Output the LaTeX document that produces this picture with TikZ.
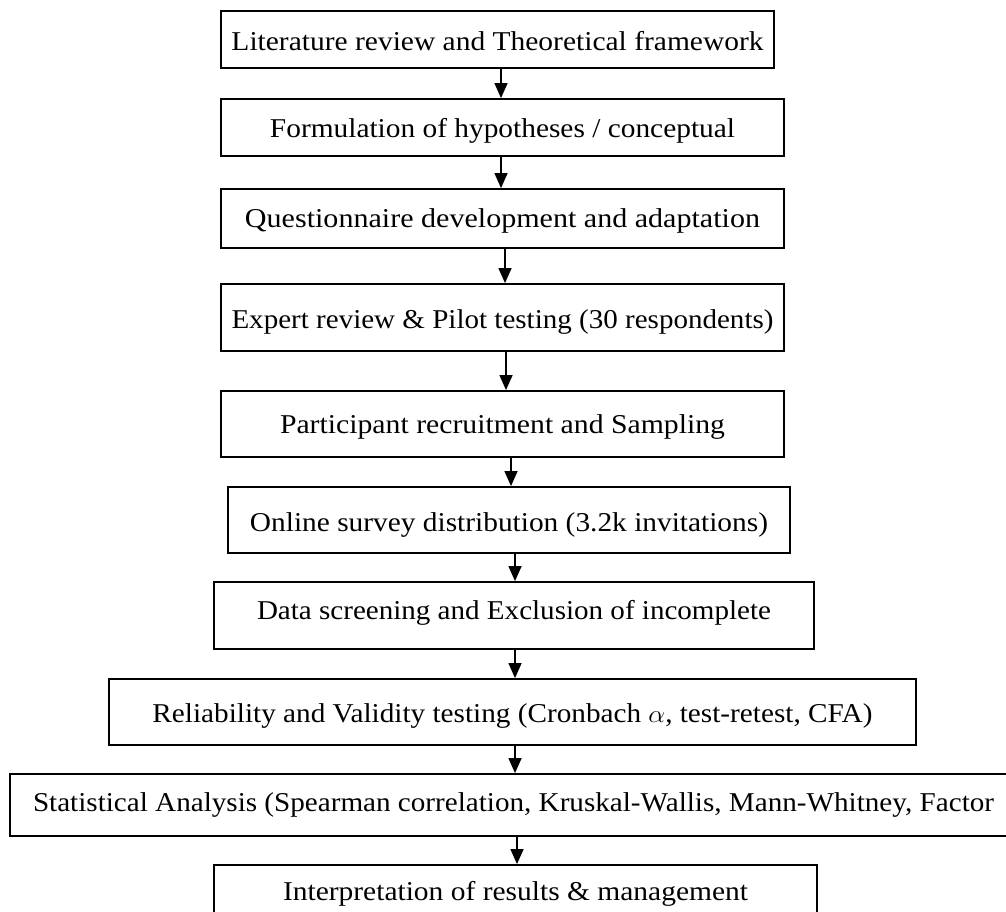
\documentclass[tikz,border=0pt]{standalone}
\usepackage{graphicx}
\usepackage{fontspec}
\setmainfont{Liberation Serif}
\usetikzlibrary{arrows.meta}
\newcommand\fitw[2]{\resizebox{#1pt}{\height}{#2}}
\tikzset{
  box/.style={draw=black, line width=1.8pt, fill=none, inner sep=0pt, align=center,
    font=\fontsize{27.2}{30}\selectfont, text depth=0pt},
  arr/.style={line width=1.3pt, -{Triangle[length=15pt,width=13pt]}}
}
\begin{document}
\begin{tikzpicture}[x=1pt,y=-1pt]
\useasboundingbox (0,0) rectangle (1006,911);
\node[box, minimum width=553pt, minimum height=57pt, text height=21pt] (b1) at (497.5,39.5) {\fitw{532}{Literature review and Theoretical framework}};
\node[box, minimum width=563pt, minimum height=57pt, text height=19pt] (b2) at (502.5,127.5) {\fitw{465}{Formulation of hypotheses / conceptual}};
\node[box, minimum width=563pt, minimum height=59pt, text height=17pt] (b3) at (502.5,218.5) {\fitw{515}{Questionnaire development and adaptation}};
\node[box, minimum width=563pt, minimum height=67pt, text height=21pt] (b4) at (502.5,317.5) {\fitw{542}{Expert review \& Pilot testing (30 respondents)}};
\node[box, minimum width=563pt, minimum height=66pt, text height=18pt] (b5) at (502.5,424) {\fitw{445}{Participant recruitment and Sampling}};
\node[box, minimum width=562pt, minimum height=66pt, text height=22pt] (b6) at (509,520) {\fitw{518}{Online survey distribution (3.2k invitations)}};
\node[box, minimum width=600pt, minimum height=67pt, text height=7pt] (b7) at (514,615.5) {\fitw{514}{Data screening and Exclusion of incomplete}};
\node[box, minimum width=807pt, minimum height=66pt, text height=20pt] (b8) at (512.5,712) {\fitw{720}{Reliability and Validity testing (Cronbach $\alpha$, test-retest, CFA)}};
\node[box, minimum width=1007pt, minimum height=62pt, text height=13.4pt] (b9) at (513.5,805) {\fitw{961}{Statistical Analysis (Spearman correlation, Kruskal-Wallis, Mann-Whitney, Factor}};
\node[box, minimum width=603pt, minimum height=60pt, text height=10pt] (b10) at (515.5,895) {\fitw{465}{Interpretation of results \& management}};
\draw[arr] ([xshift=3.5pt]b1.south) -- ([xshift=-1.5pt]b2.north);
\draw[arr] ([xshift=-1.5pt]b2.south) -- ([xshift=-1.5pt]b3.north);
\draw[arr] ([xshift=2.5pt]b3.south) -- ([xshift=2.5pt]b4.north);
\draw[arr] ([xshift=3.5pt]b4.south) -- ([xshift=3.5pt]b5.north);
\draw[arr] ([xshift=8.5pt]b5.south) -- ([xshift=2pt]b6.north);
\draw[arr] ([xshift=6pt]b6.south) -- ([xshift=1pt]b7.north);
\draw[arr] ([xshift=1pt]b7.south) -- ([xshift=2.5pt]b8.north);
\draw[arr] ([xshift=2.5pt]b8.south) -- ([xshift=1.5pt]b9.north);
\draw[arr] ([xshift=3.5pt]b9.south) -- ([xshift=1.5pt]b10.north);
\end{tikzpicture}
\end{document}
